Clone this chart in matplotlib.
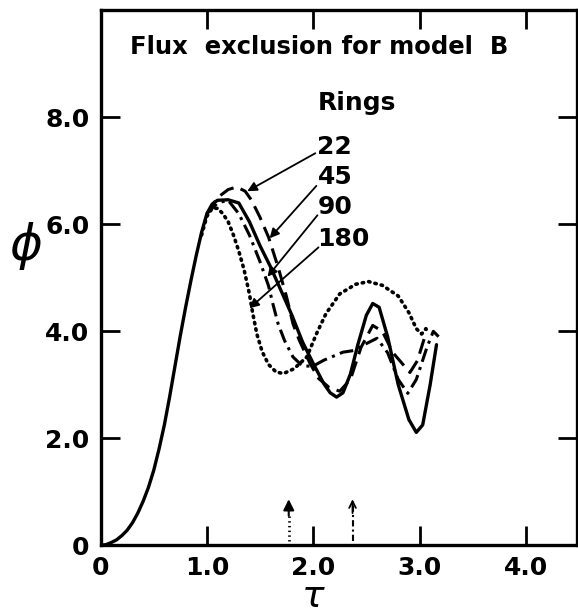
import numpy as np
import matplotlib
matplotlib.use('Agg')
import matplotlib.pyplot as plt

# solid curve
tau_solid = [0.0, 0.05, 0.1, 0.15, 0.2, 0.25, 0.3, 0.35, 0.4, 0.45, 0.5, 0.55, 0.6, 0.65,
             0.7, 0.75, 0.8, 0.85, 0.9, 0.95, 1.0, 1.05, 1.1, 1.2, 1.3,
             1.4, 1.5, 1.6, 1.7, 1.8, 1.9, 2.0, 2.1, 2.16, 2.22, 2.28, 2.35, 2.42, 2.5,
             2.56, 2.62, 2.7, 2.8, 2.9, 2.97, 3.03, 3.1, 3.16]
phi_solid = [0.0, 0.01, 0.05, 0.1, 0.18, 0.28, 0.42, 0.6, 0.82, 1.08, 1.4, 1.8, 2.25, 2.78,
             3.35, 3.92, 4.45, 4.95, 5.42, 5.85, 6.2, 6.38, 6.45, 6.46, 6.4,
             6.05, 5.6, 5.2, 4.75, 4.3, 3.8, 3.4, 3.02, 2.85, 2.77, 2.85, 3.2, 3.75, 4.3,
             4.52, 4.45, 3.9, 3.0, 2.35, 2.11, 2.25, 3.0, 3.75]

# dotted curve
tau_dot = [0.95, 1.0, 1.05, 1.1, 1.15, 1.2, 1.25, 1.3, 1.35, 1.4, 1.43, 1.47, 1.52, 1.58,
           1.65, 1.72, 1.82, 1.94, 2.03, 2.12, 2.25, 2.4, 2.52, 2.65, 2.8, 2.9, 2.97, 3.02,
           3.06, 3.08]
phi_dot = [5.8, 6.15, 6.3, 6.3, 6.2, 6.05, 5.8, 5.5, 5.15, 4.7, 4.35, 3.95, 3.62, 3.38,
           3.24, 3.21, 3.3, 3.52, 3.95, 4.33, 4.7, 4.88, 4.93, 4.86, 4.66, 4.35, 4.05, 3.95,
           4.05, 3.95]

# long dashed curve
tau_dash = [1.0, 1.1, 1.2, 1.28, 1.36, 1.42, 1.5, 1.58, 1.67, 1.75, 1.81, 1.87, 1.97, 2.05,
            2.15, 2.25, 2.35, 2.45, 2.56, 2.65, 2.75, 2.91, 2.98, 3.05]
phi_dash = [6.2, 6.5, 6.65, 6.7, 6.62, 6.45, 6.13, 5.76, 5.2, 4.64, 4.14, 3.83, 3.4, 3.12,
            2.95, 2.88, 3.1, 3.7, 4.11, 4.0, 3.6, 3.23, 3.45, 3.9]

# dash-dot curve
tau_dd = [1.0, 1.1, 1.2, 1.3, 1.4, 1.5, 1.58, 1.62, 1.67, 1.73, 1.81, 1.9, 2.0, 2.1, 2.28,
          2.38, 2.48, 2.6, 2.7, 2.8, 2.89, 2.97, 3.07, 3.13, 3.18]
phi_dd = [6.2, 6.4, 6.45, 6.2, 5.8, 5.3, 4.85, 4.52, 4.14, 3.83, 3.52, 3.35, 3.35, 3.46, 3.61,
          3.64, 3.75, 3.87, 3.6, 3.1, 2.84, 3.1, 3.7, 4.0, 3.9]

ring_labels = ['22', '45', '90', '180']
label_pos = [(2.04, 7.44), (2.04, 6.88), (2.04, 6.32), (2.04, 5.72)]
arrow_start = [(2.02, 7.33), (2.03, 6.72), (2.04, 6.17), (2.05, 5.57)]
arrow_end = [(1.38, 6.62), (1.59, 5.74), (1.57, 5.02), (1.40, 4.43)]

xticks = [0, 1, 2, 3, 4]
xticklabels = ['0', '1.0', '2.0', '3.0', '4.0']
yticks = [0, 2, 4, 6, 8]
yticklabels = ['0', '2.0', '4.0', '6.0', '8.0']

mark_tau = [1.77, 2.37]

fig = plt.figure(figsize=(5.78, 6.14), dpi=100)
ax = fig.add_axes([0.174, 0.112, 0.824, 0.871])

ax.plot(tau_solid, phi_solid, color='k', lw=2.4, solid_capstyle='round',
        solid_joinstyle='round')
ax.plot(tau_dot, phi_dot, color='k', lw=2.6, linestyle=(0, (0.4, 1.4)), dash_capstyle='round')
ax.plot(tau_dash, phi_dash, color='k', lw=2.2, linestyle=(0, (5, 2.5)))
ax.plot(tau_dd, phi_dd, color='k', lw=2.2, linestyle=(0, (4.5, 1.8, 1, 1.8)))

ax.set_xlim(0, 4.48)
ax.set_ylim(0, 10.0)

for s in ax.spines.values():
    s.set_linewidth(2.4)

ax.set_xticks(xticks)
ax.set_xticklabels(xticklabels)
ax.set_yticks(yticks)
ax.set_yticklabels(yticklabels)
ax.tick_params(direction='in', length=14, width=2, top=True, right=True,
               labelsize=18, pad=8)
for t in ax.get_xticklabels() + ax.get_yticklabels():
    t.set_fontweight('bold')
# no inner tick at 0
ax.xaxis.get_major_ticks()[0].tick1line.set_visible(False)
ax.xaxis.get_major_ticks()[0].tick2line.set_visible(False)
ax.yaxis.get_major_ticks()[0].tick1line.set_visible(False)
ax.yaxis.get_major_ticks()[0].tick2line.set_visible(False)

ax.text(0.28, 9.31, 'Flux  exclusion for model  B', fontsize=17.5, fontweight='bold',
        ha='left', va='center')
ax.text(2.41, 8.26, 'Rings', fontsize=18, fontweight='bold', ha='center', va='center')

for lab, (lx, ly), st, en in zip(ring_labels, label_pos, arrow_start, arrow_end):
    ax.text(lx, ly, lab, fontsize=18, fontweight='bold', ha='left', va='center')
    ax.annotate('', xy=en, xytext=st,
                arrowprops=dict(arrowstyle='-|>', color='k', lw=1.3,
                                mutation_scale=14, shrinkA=0, shrinkB=0))

# markers on the tau axis
ax.plot([mark_tau[0], mark_tau[0]], [0.08, 0.6], color='k', lw=2, linestyle=(0, (0.5, 1.2)))
ax.annotate('', xy=(mark_tau[0], 0.86), xytext=(mark_tau[0], 0.55),
            arrowprops=dict(arrowstyle='-|>', color='k', lw=1.5, mutation_scale=16,
                            shrinkA=0, shrinkB=0))
ax.plot([mark_tau[1], mark_tau[1]], [0.08, 0.75], color='k', lw=1.5,
        linestyle=(0, (3, 1.5, 1, 1.5)))
ax.annotate('', xy=(mark_tau[1], 0.86), xytext=(mark_tau[1], 0.6),
            arrowprops=dict(arrowstyle='->', color='k', lw=1.3, mutation_scale=12,
                            shrinkA=0, shrinkB=0))

fig.text(0.045, 0.60, r'$\phi$', fontsize=36, ha='center', va='center')
fig.text(0.542, 0.027, r'$\tau$', fontsize=27, ha='center', va='center')

fig.savefig('out.png', dpi=100)
